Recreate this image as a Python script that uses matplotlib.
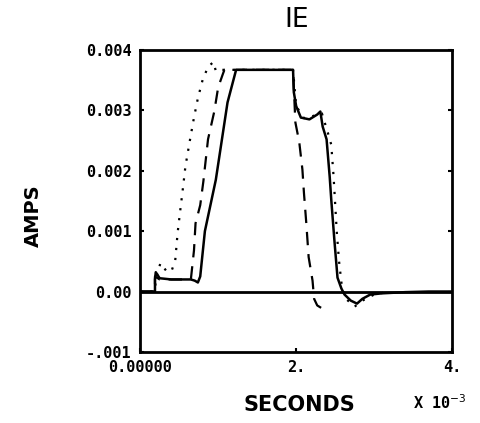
import numpy as np
import matplotlib
matplotlib.use("Agg")
import matplotlib.pyplot as plt

# time in units of 1e-3 s, current in amps
t_solid = [0, 0.19, 0.19, 0.20, 0.25, 0.40, 0.65, 0.70, 0.74, 0.77, 0.79, 0.83, 0.97,
           1.12, 1.23, 1.96, 1.97, 2.00, 2.06, 2.17, 2.27, 2.31, 2.34, 2.39, 2.43, 2.45,
           2.49, 2.53, 2.58, 2.62, 2.70, 2.78, 2.85, 2.95, 3.10, 3.40, 3.70, 4.00]
i_solid = [0, 0, 0.00020, 0.00032, 0.00022, 0.00020, 0.00020, 0.00018, 0.00015, 0.00025,
           0.00050, 0.00100, 0.00185, 0.00313, 0.00367, 0.00367, 0.00330, 0.00307, 0.00288,
           0.00285, 0.00293, 0.00298, 0.00273, 0.00252, 0.00190, 0.00152, 0.00085, 0.00023,
           0.00005, -0.00005, -0.00015, -0.00020, -0.00012, -0.00005, -0.00003, -0.00001, 0, 0]

t_dash = [0, 0.19, 0.19, 0.25, 0.65, 0.69, 0.71, 0.77, 0.81, 0.87, 0.95, 1.00, 1.06,
          1.08, 1.96, 1.99, 2.04, 2.08, 2.10, 2.13, 2.16, 2.21, 2.23, 2.27, 2.32]
i_dash = [0, 0, 0.00025, 0.00020, 0.00020, 0.00068, 0.00113, 0.00143, 0.00182, 0.00252,
          0.00298, 0.00338, 0.00360, 0.00367, 0.00367, 0.00280, 0.00247, 0.00202, 0.00163,
          0.00113, 0.00057, 0.00018, -0.00012, -0.00023, -0.00027]

t_dot = [0, 0.18, 0.22, 0.26, 0.33, 0.40, 0.45, 0.48, 0.51, 0.55, 0.58, 0.64, 0.69,
         0.74, 0.80, 0.87, 0.94, 0.97, 1.02, 1.96, 2.00, 2.10, 2.20, 2.33, 2.42, 2.45,
         2.48, 2.52, 2.55, 2.58, 2.62, 2.75, 2.85, 3.00, 3.20]
i_dot = [0, 0, 0.00030, 0.00047, 0.00035, 0.00033, 0.00052, 0.00097, 0.00130, 0.00173,
         0.00207, 0.00252, 0.00288, 0.00320, 0.00350, 0.00372, 0.00380, 0.00365, 0.00367,
         0.00367, 0.00307, 0.00287, 0.00290, 0.00295, 0.00257, 0.00243, 0.00190, 0.00100,
         0.00050, 0.00015, -0.00010, -0.00025, -0.00015, -0.00005, 0]

x_ticks = [0, 2, 4]
x_labels = ["0.00000", "2.", "4."]
y_ticks = [-0.001, 0, 0.001, 0.002, 0.003, 0.004]
y_labels = ["-.001", "0.00", "0.001", "0.002", "0.003", "0.004"]

fig = plt.figure(figsize=(4.8, 4.23), dpi=100)
ax = fig.add_axes([0.292, 0.168, 0.650, 0.714])

ax.plot(t_dot, i_dot, color="black", lw=1.6, linestyle=(0, (1, 3.5)))
ax.plot(t_dash, i_dash, color="black", lw=1.6, linestyle=(0, (6, 4)))
ax.plot(t_solid, i_solid, color="black", lw=1.8)
ax.axhline(0, color="black", lw=2)

ax.set_xlim(0, 4)
ax.set_ylim(-0.001, 0.004)
ax.set_xticks(x_ticks)
ax.set_xticklabels(x_labels)
ax.set_yticks(y_ticks)
ax.set_yticklabels(y_labels)
ax.tick_params(direction="in", length=3, width=1.5, right=True, pad=6)
for lab in ax.get_xticklabels() + ax.get_yticklabels():
    lab.set_family("DejaVu Sans Mono")
    lab.set_fontweight("bold")
    lab.set_fontsize(11)
for s in ax.spines.values():
    s.set_linewidth(2)

fig.text(0.619, 0.952, "IE", ha="center", va="center", fontsize=19,
         family="DejaVu Sans", color="black")
fig.text(0.07, 0.49, "AMPS", ha="center", va="center", rotation=90,
         fontsize=14, family="DejaVu Sans", fontweight="bold")
fig.text(0.623, 0.043, "SECONDS", ha="center", va="center", fontsize=15,
         family="DejaVu Sans", fontweight="bold")
fig.text(0.86, 0.048, "X 10$^{-3}$", ha="left", va="center", fontsize=11,
         family="DejaVu Sans Mono", fontweight="bold")

fig.savefig("out.png", dpi=100)
